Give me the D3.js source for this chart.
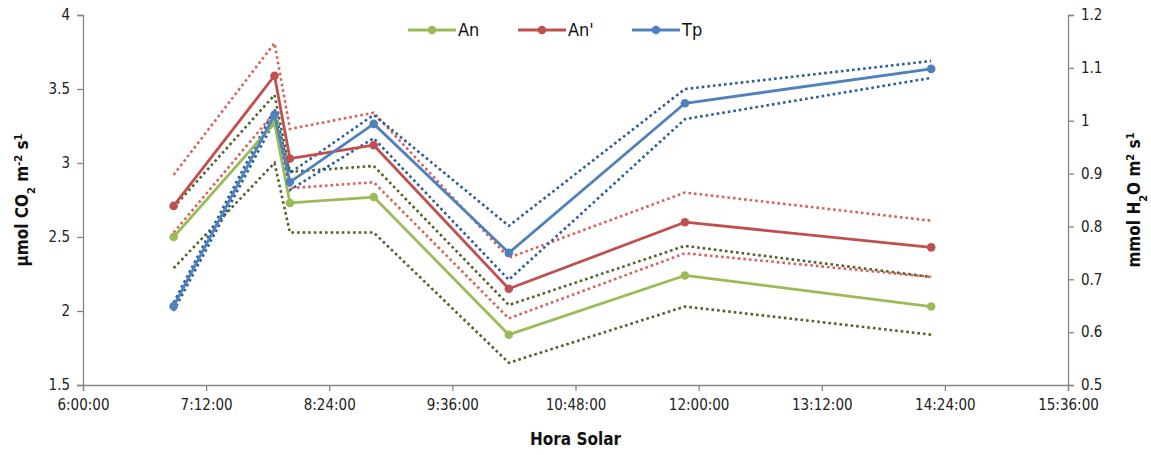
<!DOCTYPE html>
<html>
<head>
<meta charset="utf-8">
<script src="https://cdn.jsdelivr.net/npm/d3@7"></script>
<style>
  body { margin: 0; background: #fff; }
  text { font-family: "Liberation Sans Narrow", "DejaVu Sans Condensed", "Open Sans", sans-serif; }
</style>
</head>
<body>
<div id="chart"></div>
<script>
// hora solar van de metingen
const times = ["6:53", "7:52", "8:01", "8:50", "10:09", "11:52", "14:16"];

// An (linker as)
const an   = [2.50, 3.27, 2.73, 2.77, 1.84, 2.24, 2.03];
const anUp = [2.70, 3.46, 2.94, 2.98, 2.04, 2.44, 2.23];
const anLo = [2.29, 3.00, 2.53, 2.53, 1.65, 2.03, 1.84];

// An' (linker as)
const anP   = [2.71, 3.59, 3.03, 3.12, 2.15, 2.60, 2.43];
const anPUp = [2.92, 3.81, 3.23, 3.34, 2.36, 2.80, 2.61];
const anPLo = [2.53, 3.34, 2.83, 2.87, 1.95, 2.39, 2.23];

// Tp (rechter as)
const tp   = [0.649, 1.011, 0.884, 0.994, 0.750, 1.033, 1.098];
const tpUp = [0.656, 1.022, 0.901, 1.011, 0.801, 1.060, 1.113];
const tpLo = [0.640, 1.000, 0.869, 0.967, 0.699, 1.003, 1.081];

const xTicks = ["6:00", "7:12", "8:24", "9:36", "10:48", "12:00", "13:12", "14:24", "15:36"];
const leftTicks = [1.5, 2, 2.5, 3, 3.5, 4];
const rightTicks = [0.5, 0.6, 0.7, 0.8, 0.9, 1, 1.1, 1.2];

const width = 1151;
const height = 455;
const margin = { top: 15, bottom: 70, left: 83, right: 83 };

const parseT = d3.timeParse("%H:%M");
const fmt = d3.timeFormat("%-H:%M:%S");

const svg = d3.select('#chart')
  .append('svg')
  .attr('width', width)
  .attr('height', height);

const x = d3.scaleTime()
  .domain([parseT(xTicks[0]), parseT(xTicks[xTicks.length - 1])])
  .range([margin.left, width - margin.right]);

const yL = d3.scaleLinear()
  .domain([1.5, 4])
  .range([height - margin.bottom, margin.top]);

const yR = d3.scaleLinear()
  .domain([0.5, 1.2])
  .range([height - margin.bottom, margin.top]);

const axisColor = '#868686';

function styleAxis(g) {
  g.select('.domain').attr('stroke', axisColor).attr('stroke-width', 1.3);
  g.selectAll('.tick line').attr('stroke', axisColor).attr('stroke-width', 1.3);
  g.selectAll('.tick text').attr('fill', '#222').style('font-size', '15px');
}

// x-as
svg.append('g')
  .attr('transform', `translate(0, ${height - margin.bottom})`)
  .call(d3.axisBottom(x).tickValues(xTicks.map(parseT)).tickFormat(fmt).tickSizeOuter(0).tickSize(6).tickPadding(8))
  .call(styleAxis);

// linker as
svg.append('g')
  .attr('transform', `translate(${margin.left}, 0)`)
  .call(d3.axisLeft(yL).tickValues(leftTicks).tickFormat(d3.format('')).tickSizeOuter(0).tickSize(6).tickPadding(7))
  .call(styleAxis);

// rechter as
svg.append('g')
  .attr('transform', `translate(${width - margin.right}, 0)`)
  .call(d3.axisRight(yR).tickValues(rightTicks).tickFormat(d3.format('')).tickSizeOuter(0).tickSize(6).tickPadding(7))
  .call(styleAxis);

const series = [
  { name: 'An', vals: an, up: anUp, lo: anLo, y: yL, color: '#9bbb59', dot: '#4f6228' },
  { name: "An'", vals: anP, up: anPUp, lo: anPLo, y: yL, color: '#c0504d', dot: '#d9605c' },
  { name: 'Tp', vals: tp, up: tpUp, lo: tpLo, y: yR, color: '#4f81bd', dot: '#2c5c9a' }
];

const pts = times.map(parseT);

// stippellijnen eerst
series.forEach(s => {
  const line = d3.line().x((d, i) => x(pts[i])).y(d => s.y(d));
  [s.up, s.lo].forEach(arr => {
    svg.append('path')
      .datum(arr)
      .attr('d', line)
      .attr('fill', 'none')
      .attr('stroke', s.dot)
      .attr('stroke-width', 2.6)
      .attr('stroke-dasharray', '2.6,3');
  });
});

// dan de gemiddelden met punten
series.forEach(s => {
  const line = d3.line().x((d, i) => x(pts[i])).y(d => s.y(d));
  svg.append('path')
    .datum(s.vals)
    .attr('d', line)
    .attr('fill', 'none')
    .attr('stroke', s.color)
    .attr('stroke-width', 2.8)
    .attr('stroke-linejoin', 'round');
  svg.append('g')
    .selectAll('circle')
    .data(s.vals)
    .join('circle')
    .attr('cx', (d, i) => x(pts[i]))
    .attr('cy', d => s.y(d))
    .attr('r', 4.3)
    .attr('fill', s.color);
});

// legenda
const legendX = [408, 518, 632];
const legend = svg.append('g');
series.forEach((s, i) => {
  const g = legend.append('g').attr('transform', `translate(${legendX[i]}, 30)`);
  g.append('line').attr('x1', 0).attr('x2', 48).attr('stroke', s.color).attr('stroke-width', 2.8);
  g.append('circle').attr('cx', 24).attr('r', 4.3).attr('fill', s.color);
  g.append('text').attr('x', 50).attr('dy', '0.35em').style('font-size', '18px').attr('fill', '#111').text(s.name);
});

// as-titels
const lt = svg.append('text')
  .attr('transform', `translate(28, ${(margin.top + height - margin.bottom) / 2}) rotate(-90)`)
  .attr('text-anchor', 'middle')
  .style('font-size', '17px')
  .style('font-weight', 'bold')
  .attr('fill', '#111');
lt.append('tspan').text('µmol CO');
lt.append('tspan').attr('baseline-shift', 'sub').style('font-size', '11px').text('2');
lt.append('tspan').text(' m');
lt.append('tspan').attr('baseline-shift', 'super').style('font-size', '11px').text('-2');
lt.append('tspan').text(' s');
lt.append('tspan').attr('baseline-shift', 'super').style('font-size', '11px').text('1');

const rt = svg.append('text')
  .attr('transform', `translate(1140, ${(margin.top + height - margin.bottom) / 2}) rotate(-90)`)
  .attr('text-anchor', 'middle')
  .style('font-size', '17px')
  .style('font-weight', 'bold')
  .attr('fill', '#111');
rt.append('tspan').text('mmol H');
rt.append('tspan').attr('baseline-shift', 'sub').style('font-size', '11px').text('2');
rt.append('tspan').text('O m');
rt.append('tspan').attr('baseline-shift', 'super').style('font-size', '11px').text('2');
rt.append('tspan').text(' s');
rt.append('tspan').attr('baseline-shift', 'super').style('font-size', '11px').text('1');

svg.append('text')
  .attr('x', (margin.left + width - margin.right) / 2)
  .attr('y', 445)
  .attr('text-anchor', 'middle')
  .style('font-size', '17px')
  .style('font-weight', 'bold')
  .attr('fill', '#111')
  .text('Hora Solar');
</script>
</body>
</html>
